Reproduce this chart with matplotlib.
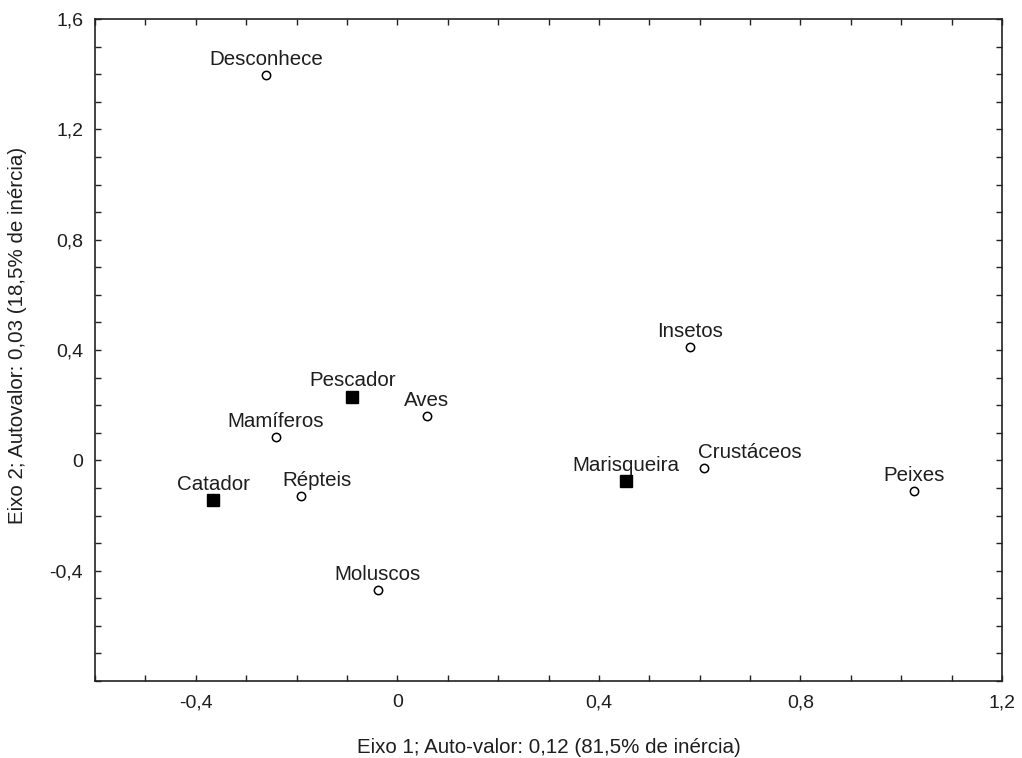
import matplotlib
matplotlib.use('Agg')
import matplotlib.pyplot as plt
from matplotlib.ticker import FixedLocator, MultipleLocator, FixedFormatter

# ---------------- data ----------------
species = ["Desconhece", "Insetos", "Aves", "Mamíferos", "Crustáceos",
           "Peixes", "Répteis", "Moluscos"]
species_x = [-0.260, 0.580, 0.058, -0.241, 0.609, 1.026, -0.192, -0.039]
species_y = [1.397, 0.410, 0.161, 0.083, -0.027, -0.111, -0.129, -0.470]

groups = ["Pescador", "Marisqueira", "Catador"]
groups_x = [-0.089, 0.454, -0.365]
groups_y = [0.231, -0.075, -0.143]

x_ticks = [-0.4, 0.0, 0.4, 0.8, 1.2]
x_ticklabels = ["-0,4", "0", "0,4", "0,8", "1,2"]
y_ticks = [-0.4, 0.0, 0.4, 0.8, 1.2, 1.6]
y_ticklabels = ["-0,4", "0", "0,4", "0,8", "1,2", "1,6"]

x_label = "Eixo 1; Auto-valor: 0,12 (81,5% de inércia)"
y_label = "Eixo 2; Autovalor: 0,03 (18,5% de inércia)"

# label horizontal shifts (points) for labels moved off-centre
label_dx = {"Répteis": 12, "Crustáceos": 33}

# ---------------- style ----------------
plt.rcParams['font.family'] = ['Liberation Sans', 'DejaVu Sans']
plt.rcParams['axes.unicode_minus'] = False
TXT = '#1e1e1e'

fig = plt.figure(figsize=(10.22, 7.58), dpi=100)
ax = fig.add_axes([95 / 1022, 1 - 681 / 758, 907 / 1022, 662 / 758])

ax.set_xlim(-0.6, 1.2)
ax.set_ylim(-0.8, 1.6)

ax.plot(species_x, species_y, linestyle='none', marker='o', markersize=6,
        markerfacecolor='white', markeredgecolor='black', markeredgewidth=1.1,
        zorder=3)
ax.plot(groups_x, groups_y, linestyle='none', marker='s', markersize=8.2,
        color='black', zorder=3)

for name, x, y in list(zip(species, species_x, species_y)) + \
        list(zip(groups, groups_x, groups_y)):
    ax.annotate(name, (x, y), xytext=(label_dx.get(name, 0), 7.3),
                textcoords='offset points', ha='center', va='baseline',
                fontsize=14.8, color=TXT)

ax.xaxis.set_major_locator(FixedLocator(x_ticks))
ax.xaxis.set_major_formatter(FixedFormatter(x_ticklabels))
ax.yaxis.set_major_locator(FixedLocator(y_ticks))
ax.yaxis.set_major_formatter(FixedFormatter(y_ticklabels))
ax.xaxis.set_minor_locator(MultipleLocator(0.1))
ax.yaxis.set_minor_locator(MultipleLocator(0.1))

ax.tick_params(which='both', direction='in', top=True, right=True,
               length=4, width=1, color='#222222')
ax.tick_params(axis='both', which='major', labelsize=14, labelcolor=TXT)
ax.tick_params(axis='x', which='major', pad=9.5)
ax.tick_params(axis='y', which='major', pad=8.5)

for s in ax.spines.values():
    s.set_linewidth(1.2)
    s.set_color('#222222')

ax.set_xlabel(x_label, fontsize=14.8, color=TXT)
ax.set_ylabel(y_label, fontsize=14.8, color=TXT)
ax.xaxis.label.set_va('center')
ax.yaxis.label.set_va('center')
ax.xaxis.set_label_coords(0.5, -0.101)
ax.yaxis.set_label_coords(-0.085, 0.522)

fig.savefig('out.png', dpi=100)
